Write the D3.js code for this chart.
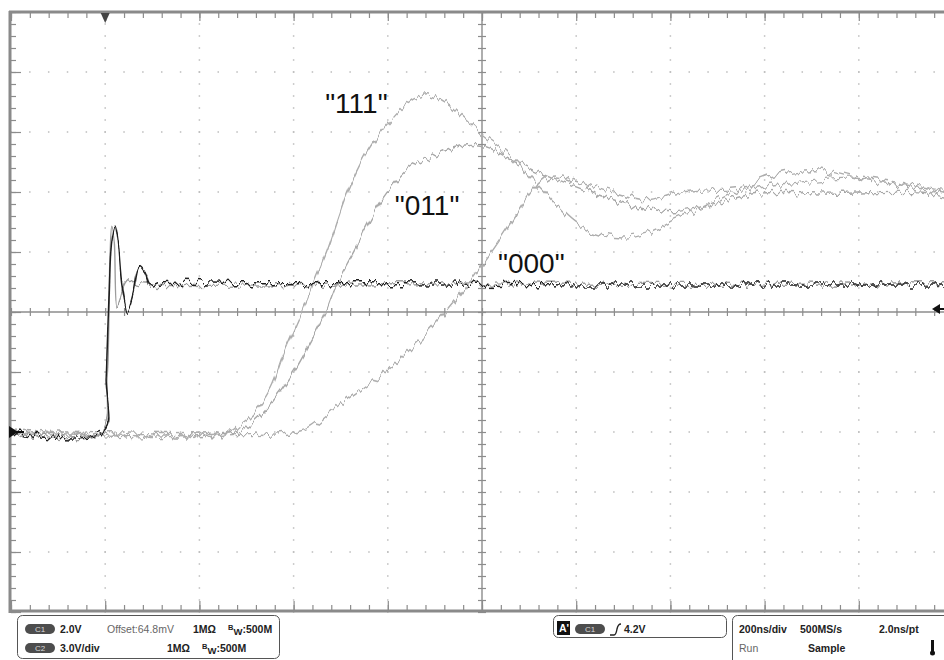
<!DOCTYPE html>
<html>
<head>
<meta charset="utf-8">
<script src="https://cdn.jsdelivr.net/npm/d3@7"></script>
<style>
  body { margin: 0; background: #fff; }
  svg { display: block; font-family: "Liberation Sans", Arial, sans-serif; }
</style>
</head>
<body>
<svg id="svg" width="944" height="660"></svg>
<script>
// time in ns (200 ns/div, trigger at 0), level in divisions from screen centre
const timeDomain = [-200, 1800];
const divDomain = [-5, 5];

// C1 latest acquisition (black)
const c1Trace = [[-200,-2.00],[-3,-2.00],[2,-1.13],[8,0.20],[14,1.20],[21,1.45],[27,1.20],[36,0.45],
  [48,0.03],[59,0.28],[72,0.73],[85,0.62],[95,0.42],[116,0.48],[307,0.47],[626,0.47],[1050,0.45],
  [1475,0.45],[1800,0.45]];
// C1 older acquisition (gray)
const c1Ghost = [[-200,-2.00],[-9,-2.00],[4,-1.13],[10,0.87],[14,1.43],[19,1.20],[25,0.08],[31,0.20],
  [42,0.45],[53,0.53],[65,0.47],[85,0.45],[600,0.47],[1200,0.46],[1800,0.47]];
// C2 responses
const trace111 = [[-200,-2.00],[265,-2.00],[286,-1.88],[318,-1.67],[350,-1.30],[382,-0.63],[418,0.02],
  [445,0.53],[471,1.03],[513,1.98],[552,2.62],[583,2.98],[641,3.48],[683,3.62],[726,3.48],[768,3.20],
  [802,2.95],[853,2.65],[923,2.08],[1008,1.42],[1099,1.25],[1150,1.32],[1206,1.53],[1263,1.73],
  [1327,1.98],[1418,2.28],[1511,2.37],[1596,2.23],[1666,2.15],[1781,1.98],[1800,1.95]];
const trace011 = [[-200,-2.00],[286,-2.00],[314,-1.85],[350,-1.55],[399,-1.02],[435,-0.52],[467,-0.02],
  [492,0.48],[526,0.98],[583,1.82],[641,2.37],[690,2.58],[760,2.78],[796,2.78],[817,2.73],[853,2.58],
  [938,2.28],[1029,2.00],[1135,1.75],[1206,1.67],[1263,1.75],[1348,1.92],[1384,1.98],[1560,1.98],
  [1736,1.98],[1781,1.90],[1800,1.90]];
const trace000 = [[-200,-2.00],[414,-2.00],[435,-1.93],[492,-1.58],[598,-0.97],[668,-0.47],[726,0.03],
  [764,0.40],[796,0.75],[823,1.03],[859,1.45],[908,2.03],[951,2.28],[997,2.20],[1065,2.03],[1150,1.87],
  [1206,1.98],[1263,2.03],[1327,2.03],[1454,2.15],[1596,2.23],[1781,2.03],[1800,2.03]];

const traceLabels = [
  {text: "\"111\"", t: 467, v: 3.32},
  {text: "\"011\"", t: 615, v: 1.62},
  {text: "\"000\"", t: 834, v: 0.65}
];

const channelRows = [
  {ch: "C1", scale: "2.0V", offset: "Offset:64.8mV", imp: "1MΩ", bw: "500M"},
  {ch: "C2", scale: "3.0V/div", offset: "", imp: "1MΩ", bw: "500M"}
];
const triggerLevel = "4.2V";
const timebase = ["200ns/div", "500MS/s", "2.0ns/pt"];
const acqState = ["Run", "Sample"];

const svg = d3.select("#svg");
const x = d3.scaleLinear().domain(timeDomain).range([11, 953]);
const y = d3.scaleLinear().domain(divDomain).range([612, 12]);

const minorT = d3.range(-200, 1801, 40);
const majorT = d3.range(-200, 1801, 200);
const minorV = d3.range(-50, 51, 2).map(d => d / 10);
const majorV = d3.range(-5, 6, 1);

const defs = svg.append("defs");
defs.append("clipPath").attr("id", "plot")
  .append("rect").attr("x", 11).attr("y", 13).attr("width", 933).attr("height", 597);

// scope trace jitter (rendering texture only)
function jitter(id, seed, amount) {
  const f = defs.append("filter").attr("id", id)
    .attr("filterUnits", "userSpaceOnUse")
    .attr("x", 0).attr("y", 0).attr("width", 944).attr("height", 660)
    .attr("color-interpolation-filters", "sRGB");
  f.append("feTurbulence").attr("type", "fractalNoise")
    .attr("baseFrequency", "0.2 0.02").attr("numOctaves", 2).attr("seed", seed).attr("result", "n");
  f.append("feColorMatrix").attr("in", "n").attr("type", "matrix")
    .attr("values", "0 0 0 0 0.5  0 2.2 0 0 -0.6  0 0 0 0 0  0 0 0 0 1").attr("result", "m");
  f.append("feDisplacementMap").attr("in", "SourceGraphic").attr("in2", "m")
    .attr("scale", amount).attr("xChannelSelector", "R").attr("yChannelSelector", "G");
}
jitter("j1", 2, 8); jitter("j2", 7, 7); jitter("j3", 11, 7); jitter("j4", 19, 7); jitter("j5", 23, 7);

// dotted graticule
const grid = svg.append("g").attr("fill", "#bdbdbd");
majorT.filter(t => t !== -200 && t !== 800 && t !== 1800).forEach(t => {
  grid.selectAll(null).data(minorV).enter().append("rect")
    .attr("x", x(t) - 0.75).attr("y", d => y(d) - 0.75).attr("width", 1.5).attr("height", 1.5);
});
majorV.filter(v => Math.abs(v) !== 5 && v !== 0).forEach(v => {
  grid.selectAll(null).data(minorT).enter().append("rect")
    .attr("x", d => x(d) - 0.75).attr("y", y(v) - 0.75).attr("width", 1.5).attr("height", 1.5);
});

// centre axes with ticks
const axisCol = "#8c8c8c";
function styleAxis(g) {
  g.select(".domain").remove();
  g.selectAll(".tick line").attr("stroke", axisCol).attr("stroke-width", 1.2);
}
svg.append("line").attr("x1", 11).attr("x2", 944).attr("y1", y(0)).attr("y2", y(0))
  .attr("stroke", axisCol).attr("stroke-width", 1.4);
svg.append("line").attr("x1", x(800)).attr("x2", x(800)).attr("y1", 12).attr("y2", 612)
  .attr("stroke", axisCol).attr("stroke-width", 1.4);
svg.append("g").attr("transform", `translate(0,${y(0)})`)
  .call(d3.axisBottom(x).tickValues(minorT).tickSize(4).tickFormat("")).call(styleAxis);
svg.append("g").attr("transform", `translate(0,${y(0)})`)
  .call(d3.axisTop(x).tickValues(minorT).tickSize(4).tickFormat("")).call(styleAxis);
svg.append("g").attr("transform", `translate(${x(800)},0)`)
  .call(d3.axisLeft(y).tickValues(minorV).tickSize(4).tickFormat("")).call(styleAxis);
svg.append("g").attr("transform", `translate(${x(800)},0)`)
  .call(d3.axisRight(y).tickValues(minorV).tickSize(4).tickFormat("")).call(styleAxis);

// border ticks
svg.append("g").attr("transform", "translate(0,13)")
  .call(d3.axisBottom(x).tickValues(minorT).tickSize(5).tickFormat("")).call(styleAxis);
svg.append("g").attr("transform", "translate(0,13)")
  .call(d3.axisBottom(x).tickValues(majorT).tickSize(8).tickFormat("")).call(styleAxis);
svg.append("g").attr("transform", "translate(0,610)")
  .call(d3.axisTop(x).tickValues(minorT).tickSize(5).tickFormat("")).call(styleAxis);
svg.append("g").attr("transform", "translate(0,610)")
  .call(d3.axisTop(x).tickValues(majorT).tickSize(9).tickFormat("")).call(styleAxis);
svg.append("g").attr("transform", "translate(11,0)")
  .call(d3.axisRight(y).tickValues(minorV).tickSize(5).tickFormat("")).call(styleAxis);
svg.append("g").attr("transform", "translate(11,0)")
  .call(d3.axisRight(y).tickValues(majorV).tickSize(10).tickFormat("")).call(styleAxis);

// border frame
svg.append("line").attr("x1", 9).attr("x2", 944).attr("y1", 12).attr("y2", 12)
  .attr("stroke", "#8a8a8a").attr("stroke-width", 3);
svg.append("line").attr("x1", 9).attr("x2", 944).attr("y1", 611).attr("y2", 611)
  .attr("stroke", "#8a8a8a").attr("stroke-width", 3);
svg.append("line").attr("x1", 10).attr("x2", 10).attr("y1", 11).attr("y2", 613)
  .attr("stroke", "#8a8a8a").attr("stroke-width", 3);

// traces
const line = d3.line().x(d => x(d[0])).y(d => y(d[1])).curve(d3.curveCatmullRom.alpha(0.5));
const traces = svg.append("g").attr("clip-path", "url(#plot)").attr("fill", "none");
[
  {data: trace000, col: "#adadad", w: 1.4, f: "j3"},
  {data: trace011, col: "#a8a8a8", w: 1.4, f: "j4"},
  {data: trace111, col: "#adadad", w: 1.4, f: "j5"},
  {data: c1Ghost, col: "#9c9c9c", w: 1.4, f: "j2"},
  {data: c1Trace, col: "#1e1e1e", w: 1.5, f: "j1"}
].forEach(s => {
  traces.append("path").datum(s.data).attr("d", line)
    .attr("stroke", s.col).attr("stroke-width", s.w).attr("filter", `url(#${s.f})`);
});

// annotations
svg.append("g").selectAll("text").data(traceLabels).enter().append("text")
  .attr("x", d => x(d.t)).attr("y", d => y(d.v))
  .attr("font-size", 28).attr("fill", "#111").text(d => d.text);

// markers: trigger position, ground level, trigger level
svg.append("path").attr("d", `M${x(0) - 4.5},13 L${x(0) + 4.5},13 L${x(0)},23 Z`).attr("fill", "#444");
const gy = y(-2);
svg.append("path").attr("d", `M9,${gy - 6} L18,${gy} L9,${gy + 6} Z`).attr("fill", "#111");
svg.append("line").attr("x1", 9).attr("x2", 24).attr("y1", gy).attr("y2", gy)
  .attr("stroke", "#111").attr("stroke-width", 2);
const ty = y(0.05);
svg.append("path").attr("d", `M932,${ty} L940,${ty - 5} L940,${ty + 5} Z`).attr("fill", "#111");
svg.append("line").attr("x1", 936).attr("x2", 944).attr("y1", ty).attr("y2", ty)
  .attr("stroke", "#111").attr("stroke-width", 2);

// info panel
const panel = svg.append("g").attr("font-size", 10.5).attr("fill", "#222");
function pill(g, px, py, label) {
  g.append("rect").attr("x", px).attr("y", py).attr("width", 30).attr("height", 10)
    .attr("rx", 5).attr("fill", "#4d4d4d");
  g.append("text").attr("x", px + 15).attr("y", py + 8).attr("text-anchor", "middle")
    .attr("font-size", 8).attr("fill", "#d8d8d8").text(label);
}
function bwText(g, px, py, val) {
  const t = g.append("text").attr("x", px).attr("y", py).attr("font-weight", "bold");
  t.append("tspan").attr("font-size", 7.5).attr("dy", -3).text("B");
  t.append("tspan").attr("font-size", 9.5).attr("dy", 5).text("W");
  t.append("tspan").attr("dy", -2).text(":" + val);
}
panel.append("rect").attr("x", 17.5).attr("y", 615.5).attr("width", 262).attr("height", 43)
  .attr("rx", 5).attr("fill", "none").attr("stroke", "#555");
const rowY = [633, 652];
const impX = [193, 167];
channelRows.forEach((r, i) => {
  pill(panel, 25, rowY[i] - 9, r.ch);
  panel.append("text").attr("x", 60).attr("y", rowY[i]).attr("font-weight", "bold").text(r.scale);
  if (r.offset) panel.append("text").attr("x", 107).attr("y", rowY[i]).attr("fill", "#666").text(r.offset);
  panel.append("text").attr("x", impX[i]).attr("y", rowY[i]).attr("font-weight", "bold").text(r.imp);
  bwText(panel, impX[i] + 35, rowY[i], r.bw);
});

// trigger box
panel.append("rect").attr("x", 553.5).attr("y", 615.5).attr("width", 173).attr("height", 22)
  .attr("rx", 5).attr("fill", "none").attr("stroke", "#555");
panel.append("rect").attr("x", 557).attr("y", 621).attr("width", 13).attr("height", 14).attr("fill", "#111");
panel.append("text").attr("x", 559).attr("y", 632).attr("fill", "#fff").attr("font-weight", "bold").text("A'");
pill(panel, 575, 624, "C1");
panel.append("path").attr("d", "M610,635 L614,635 Q616,635 617,629 Q618,624 621,624")
  .attr("fill", "none").attr("stroke", "#222").attr("stroke-width", 1.4);
panel.append("text").attr("x", 624).attr("y", 633).attr("font-weight", "bold").text(triggerLevel);

// timebase box
panel.append("rect").attr("x", 732.5).attr("y", 615.5).attr("width", 240).attr("height", 60)
  .attr("rx", 5).attr("fill", "none").attr("stroke", "#555");
const tbX = [739, 800, 879];
timebase.forEach((s, i) => {
  panel.append("text").attr("x", tbX[i]).attr("y", 633).attr("font-weight", "bold").text(s);
});
panel.append("text").attr("x", 739).attr("y", 652).attr("fill", "#666").text(acqState[0]);
panel.append("text").attr("x", 808).attr("y", 652).attr("font-weight", "bold").text(acqState[1]);
panel.append("rect").attr("x", 931).attr("y", 640).attr("width", 3).attr("height", 12).attr("fill", "#111");
panel.append("circle").attr("cx", 932.5).attr("cy", 653).attr("r", 2.5).attr("fill", "#111");
</script>
</body>
</html>
